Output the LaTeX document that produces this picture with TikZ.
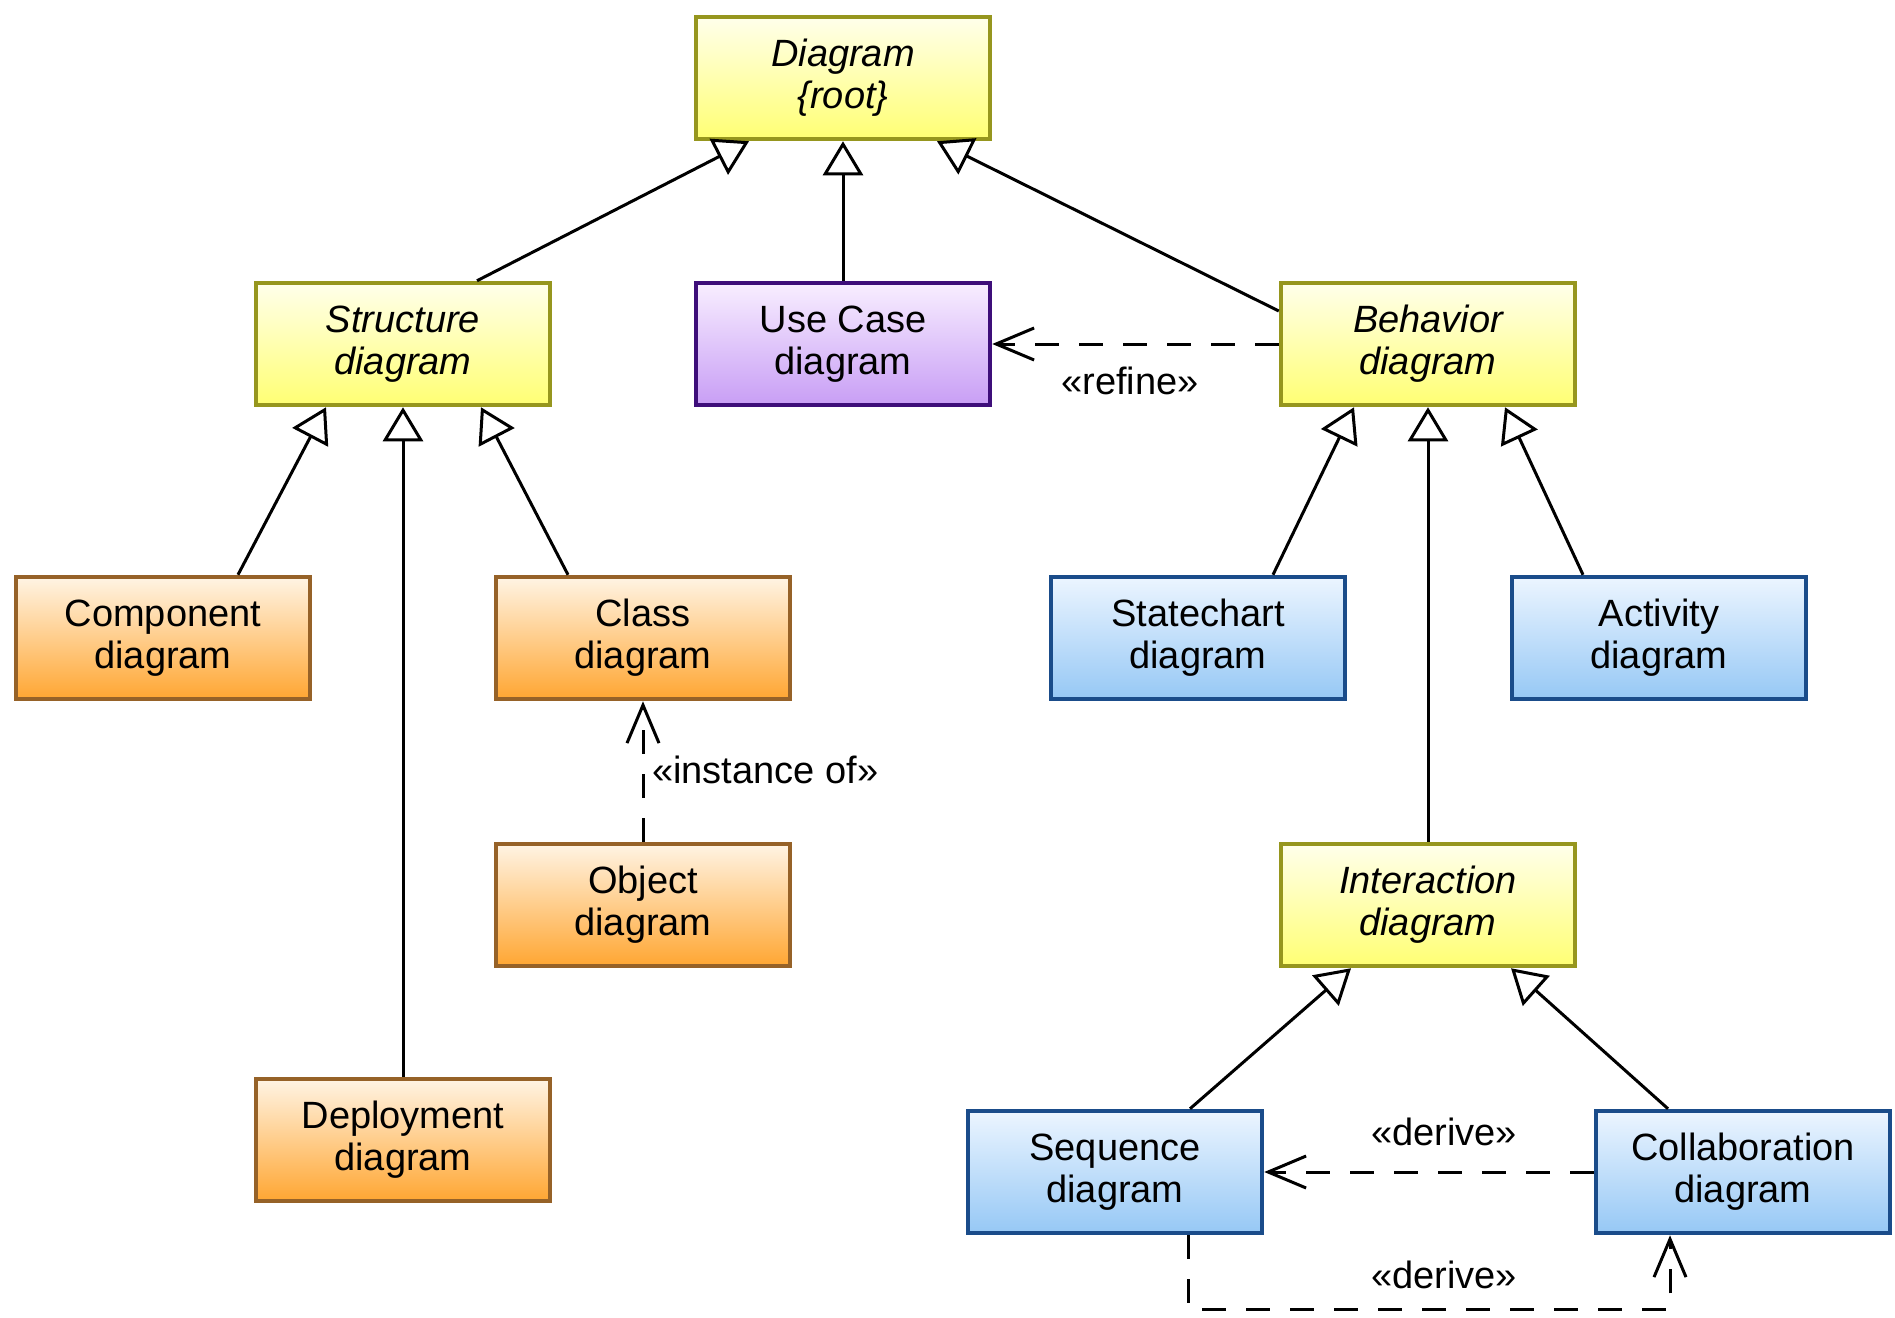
\documentclass[tikz,border=0pt]{standalone}
\usepackage{fontspec}
\setmainfont{Liberation Sans}
\usetikzlibrary{arrows.meta,calc}
\definecolor{ytop}{RGB}{255,255,235}
\definecolor{ybot}{RGB}{255,255,115}
\definecolor{ybord}{RGB}{150,150,30}
\definecolor{ptop}{RGB}{248,238,255}
\definecolor{pbot}{RGB}{200,158,245}
\definecolor{pbord}{RGB}{62,14,122}
\definecolor{otop}{RGB}{255,244,228}
\definecolor{obot}{RGB}{255,166,50}
\definecolor{obord}{RGB}{150,98,40}
\definecolor{btop}{RGB}{236,245,255}
\definecolor{bbot}{RGB}{150,200,245}
\definecolor{bbord}{RGB}{26,76,138}
\begin{document}
\begin{tikzpicture}[x=1pt,y=-1pt,
  txt/.style={font=\fontsize{38}{42}\selectfont},
  box/.style={rectangle, minimum width=294pt, minimum height=122pt, line width=4.5pt, align=center, inner sep=0pt, txt},
  ybox/.style={box, draw=ybord, top color=ytop, bottom color=ybot, font=\fontsize{38}{42}\selectfont\itshape},
  pbox/.style={box, draw=pbord, top color=ptop, bottom color=pbot},
  obox/.style={box, draw=obord, top color=otop, bottom color=obot},
  bbox/.style={box, draw=bbord, top color=btop, bottom color=bbot},
  gen/.style={line width=3pt, -{Triangle[open, length=34pt, width=40pt]}},
  dep/.style={line width=3pt, dash pattern=on 24pt off 20pt, -{Straight Barb[length=38pt, width=32pt]}},
  lbl/.style={txt, inner sep=0pt}
]
\path[use as bounding box, fill=white] (0,0) rectangle (1895,1317);

\node[ybox] (root) at (843,78) {Diagram\\\{root\}};
\node[ybox] (st) at (403,344) {Structure\\diagram};
\node[pbox] (uc) at (843,344) {Use Case\\diagram};
\node[ybox] (beh) at (1428,344) {Behavior\\diagram};
\node[obox] (comp) at (163,638) {Component\\diagram};
\node[obox] (cls) at (643,638) {Class\\diagram};
\node[bbox] (sc) at (1198,638) {Statechart\\diagram};
\node[bbox] (act) at (1659,638) {Activity\\diagram};
\node[obox] (obj) at (643,905) {Object\\diagram};
\node[ybox] (inter) at (1428,905) {Interaction\\diagram};
\node[obox] (dep) at (403,1140) {Deployment\\diagram};
\node[bbox] (seq) at (1115,1172) {Sequence\\diagram};
\node[bbox] (col) at (1743,1172) {Collaboration\\diagram};

% generalizations
\draw[gen] ($(st.north)+(74,0)$) -- ($(root.south)+(-94,0)$);
\draw[gen] (uc.north) -- (root.south);
\draw[gen] ($(beh.west)+(0,-33)$) -- ($(root.south)+(94,0)$);
\draw[gen] ($(comp.north)+(75,0)$) -- ($(st.south)+(-77,0)$);
\draw[gen] (dep.north) -- (st.south);
\draw[gen] ($(cls.north)+(-75,0)$) -- ($(st.south)+(78,0)$);
\draw[gen] ($(sc.north)+(75,0)$) -- ($(beh.south)+(-74,0)$);
\draw[gen] (inter.north) -- (beh.south);
\draw[gen] ($(act.north)+(-76,0)$) -- ($(beh.south)+(77,0)$);
\draw[gen] ($(seq.north)+(75,0)$) -- ($(inter.south)+(-77,0)$);
\draw[gen] ($(col.north)+(-75,0)$) -- ($(inter.south)+(83,0)$);

% dependencies
\draw[dep] (beh.west) -- (uc.east);
\node[lbl] (lrefine) at (1130,381) {«refine»};
\draw[dep] (obj.north) -- (cls.south);
\node[lbl, anchor=west] (linst) at (652,770) {«instance of»};
\draw[dep] (col.west) -- (seq.east);
\node[lbl] (lder1) at (1444,1132) {«derive»};
\draw[dep] ($(seq.south)+(73,0)$) -- ++(0,74) -| ($(col.south)+(-73,0)$);
\node[lbl] (lder2) at (1444,1275) {«derive»};
\end{tikzpicture}
\end{document}
